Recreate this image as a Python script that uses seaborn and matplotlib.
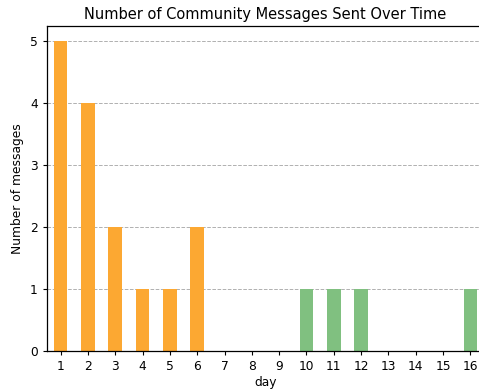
import matplotlib
matplotlib.use("Agg")
import matplotlib.pyplot as plt
import seaborn as sns
import pandas as pd

days = list(range(1, 17))
messages = [5, 4, 2, 1, 1, 2, 0, 0, 0, 1, 1, 1, 0, 0, 0, 1]
groups = ["early"] * 6 + ["late"] * 10

palette = {"early": "#FCA832", "late": "#80C080"}

df = pd.DataFrame({"day": days, "messages": messages, "group": groups})

# reference looks like a default figure scaled down a bit
s = 0.88
plt.rcParams.update({
    "font.size": 10 * s,
    "xtick.major.size": 3.5 * s,
    "ytick.major.size": 3.5 * s,
    "axes.linewidth": 0.9,
})

fig = plt.figure(figsize=(4.79, 3.89), dpi=100)
# axes runs a bit past the right edge, as in the reference
ax = fig.add_axes([47 / 479, 1 - 351 / 389, (484 - 47) / 479, (351 - 26) / 389])

sns.barplot(data=df, x="day", y="messages", hue="group", palette=palette,
            dodge=False, width=0.5, legend=False, saturation=1, ax=ax)

ax.set_axisbelow(True)
ax.yaxis.grid(True, linestyle="--", color="#b0b0b0", linewidth=0.7)
ax.set_xlim(-0.5, 15.5)
ax.set_ylim(0, 5.25)
ax.set_yticks(range(0, 6))
ax.set_xlabel("day", labelpad=2)
ax.set_ylabel("Number of messages")
ax.set_title("Number of Community Messages Sent Over Time", fontsize=12 * s, pad=5)

fig.savefig("out.png", dpi=100)
